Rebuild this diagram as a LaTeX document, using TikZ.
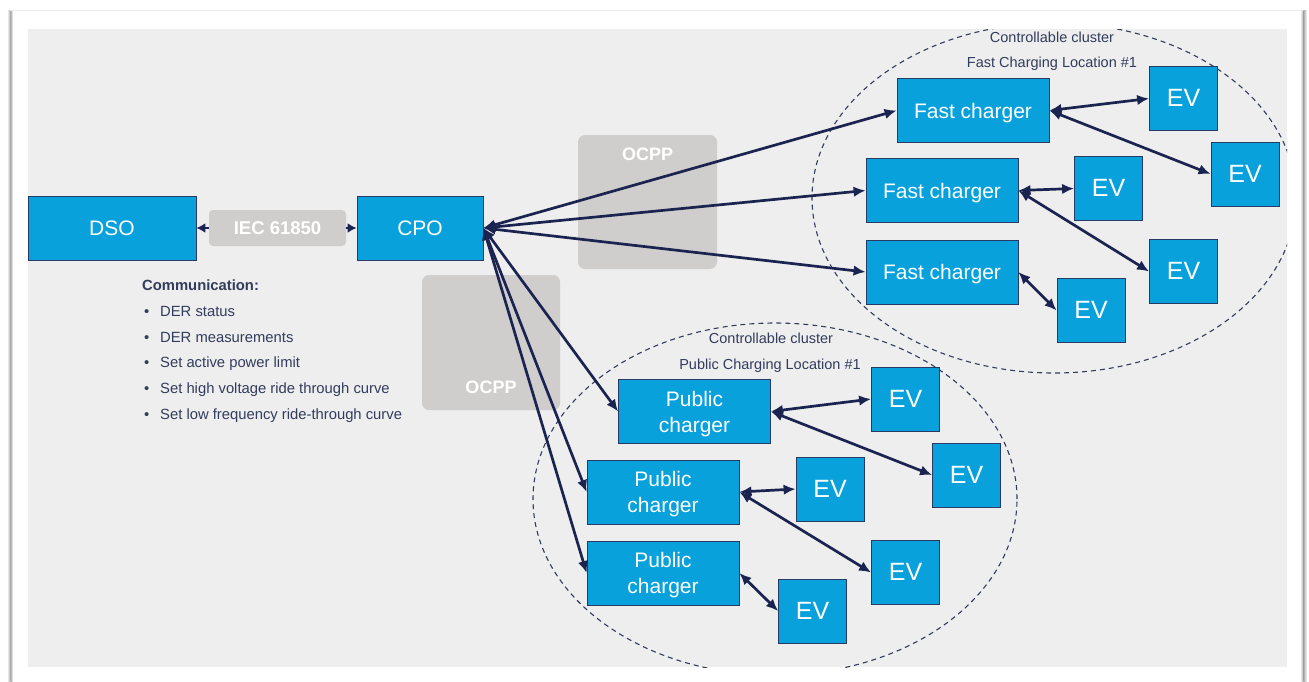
\documentclass[tikz,border=0pt]{standalone}
\usepackage{fontspec}
\setmainfont{Liberation Sans}
\usetikzlibrary{arrows.meta}
\definecolor{panel}{RGB}{238,238,238}
\definecolor{boxblue}{RGB}{8,161,220}
\definecolor{boxedge}{RGB}{38,58,100}
\definecolor{navy}{RGB}{27,36,80}
\definecolor{taggray}{RGB}{208,206,205}
\definecolor{labeltext}{RGB}{50,60,92}
\definecolor{cardshadow}{RGB}{170,170,170}

% two stacked lines whose baseline is the lower one
\newcommand{\twolines}[2]{\begin{tabular}[b]{@{}c@{}}#1\\#2\end{tabular}}

\begin{document}
\begin{tikzpicture}[x=1pt,y=-1pt,
  unit/.style={draw=boxedge, fill=boxblue, text=white, line width=0.8pt,
    inner sep=0pt, align=center, font=\fontsize{21}{26}\selectfont,
    text height=15pt, text depth=0pt},
  charger/.style={unit, minimum width=152pt, minimum height=64pt},
  pubcharger/.style={charger, text height=41pt},
  evbox/.style={unit, minimum width=68pt, minimum height=64pt,
    font=\fontsize{25}{30}\selectfont, text height=16pt},
  tag/.style={fill=taggray, rounded corners=7pt, inner sep=0pt},
  tagtext/.style={text=white, inner sep=0pt, font=\fontsize{18}{22}\selectfont\bfseries},
  tip/.tip={Latex[length=12pt,width=10.5pt]},
  link/.style={draw=navy, line width=2.7pt, tip-tip},
  oneway/.style={draw=navy, line width=2.2pt, -{Latex[length=9pt,width=10pt]}},
  cluster/.style={draw=labeltext, line width=1.1pt, dash pattern=on 5pt off 4pt},
  clustertext/.style={text=labeltext, inner sep=0pt, anchor=base,
    font=\fontsize{14.5}{17}\selectfont},
  commtext/.style={text=labeltext, inner sep=0pt, anchor=base west,
    font=\fontsize{14.8}{17}\selectfont},
]
\useasboundingbox (0,0) rectangle (1309,681);

% page card with its soft edge shadow
\fill[white] (0,0) rectangle (1309,681);
\shade[left color=white, right color=cardshadow] (7,10) rectangle (10.5,690);
\shade[left color=cardshadow, right color=white] (10.5,10) rectangle (13,690);
\shade[left color=white, right color=cardshadow] (1300,10) rectangle (1303.5,690);
\shade[left color=cardshadow, right color=white] (1303.5,10) rectangle (1307,690);
\draw[black!8, line width=1pt] (10,10) -- (1303,10);
\fill[panel] (28,29) rectangle (1287,667);

% protocol tags
\node[tag, minimum width=139pt, minimum height=134pt] (ocppA) at (647.5,202) {};
\node[tagtext] (ocppAtxt) at (647.5,154) {OCPP};
\node[tag, minimum width=138pt, minimum height=135pt] (ocppB) at (491,342.5) {};
\node[tagtext] (ocppBtxt) at (491,387) {OCPP};

% controllable clusters
\begin{scope}
  \clip (28,29) rectangle (1287,667);
  \draw[cluster] (1054,198) ellipse [x radius=242pt, y radius=175pt];
  \draw[cluster] (775,499) ellipse [x radius=242pt, y radius=176pt];
\end{scope}
\node[clustertext] (fastA) at (1052,42) {Controllable cluster};
\node[clustertext] (fastB) at (1052,67.5) {Fast Charging Location \#1};
\node[clustertext] (pubA) at (771,343) {Controllable cluster};
\node[clustertext] (pubB) at (770,369.5) {Public Charging Location \#1};

% operators
\node[unit, minimum width=168pt, minimum height=64pt] (dso) at (112,228) {DSO};
\node[unit, minimum width=126pt, minimum height=64pt] (cpo) at (420,228) {CPO};
\node[tag, minimum width=137pt, minimum height=36pt, rounded corners=4pt,
  text=white, font=\fontsize{18.5}{22}\selectfont\bfseries,
  text height=13.3pt, text depth=0pt] (iec) at (277.5,228) {IEC 61850};

% communication list
\node[commtext, font=\fontsize{14.8}{17}\selectfont\bfseries] (comm0) at (142,290) {Communication:};
\node[commtext] (comm1) at (144,316) {\makebox[16pt][l]{\textbullet}DER status};
\node[commtext] (comm2) at (144,342) {\makebox[16pt][l]{\textbullet}DER measurements};
\node[commtext] (comm3) at (144,367) {\makebox[16pt][l]{\textbullet}Set active power limit};
\node[commtext] (comm4) at (144,393) {\makebox[16pt][l]{\textbullet}Set high voltage ride through curve};
\node[commtext] (comm5) at (144,419) {\makebox[16pt][l]{\textbullet}Set low frequency ride-through curve};

% fast charging location
\node[charger] (fc1) at (973,110.5) {Fast charger};
\node[charger] (fc2) at (942,190.5) {Fast charger};
\node[charger] (fc3) at (942,272) {Fast charger};
\node[evbox] (ev1) at (1183.5,98.5) {EV};
\node[evbox] (ev2) at (1245,174) {EV};
\node[evbox] (ev3) at (1108.5,188.5) {EV};
\node[evbox] (ev4) at (1183.5,271.5) {EV};
\node[evbox] (ev5) at (1091,310.5) {EV};

% public charging location
\node[pubcharger] (pc1) at (694.5,411.5) {\twolines{Public}{charger}};
\node[pubcharger] (pc2) at (663,492) {\twolines{Public}{charger}};
\node[pubcharger] (pc3) at (663,573) {\twolines{Public}{charger}};
\node[evbox] (pv1) at (905.5,399) {EV};
\node[evbox] (pv2) at (966.5,475) {EV};
\node[evbox] (pv3) at (830,489) {EV};
\node[evbox] (pv4) at (905.5,572.5) {EV};
\node[evbox] (pv5) at (812.5,611) {EV};

% connectors
\draw[oneway] (iec.west) -- (dso.east);
\draw[oneway] (iec.east) -- (cpo.west);

\draw[link] (cpo.east) -- (fc1.west);
\draw[link] (cpo.east) -- (fc2.west);
\draw[link] (cpo.east) -- (fc3.west);
\draw[link] (cpo.east) -- (pc1.west);
\draw[link] (cpo.east) -- (pc2.west);
\draw[link] (cpo.east) -- (pc3.west);

\draw[link] (fc1.east) -- (ev1.west);
\draw[link] (fc1.east) -- (ev2.west);
\draw[link] (fc2.east) -- (ev3.west);
\draw[link] (fc2.east) -- (ev4.west);
\draw[link] (fc3.east) -- (ev5.west);

\draw[link] (pc1.east) -- (pv1.west);
\draw[link] (pc1.east) -- (pv2.west);
\draw[link] (pc2.east) -- (pv3.west);
\draw[link] (pc2.east) -- (pv4.west);
\draw[link] (pc3.east) -- (pv5.west);
\end{tikzpicture}
\end{document}
